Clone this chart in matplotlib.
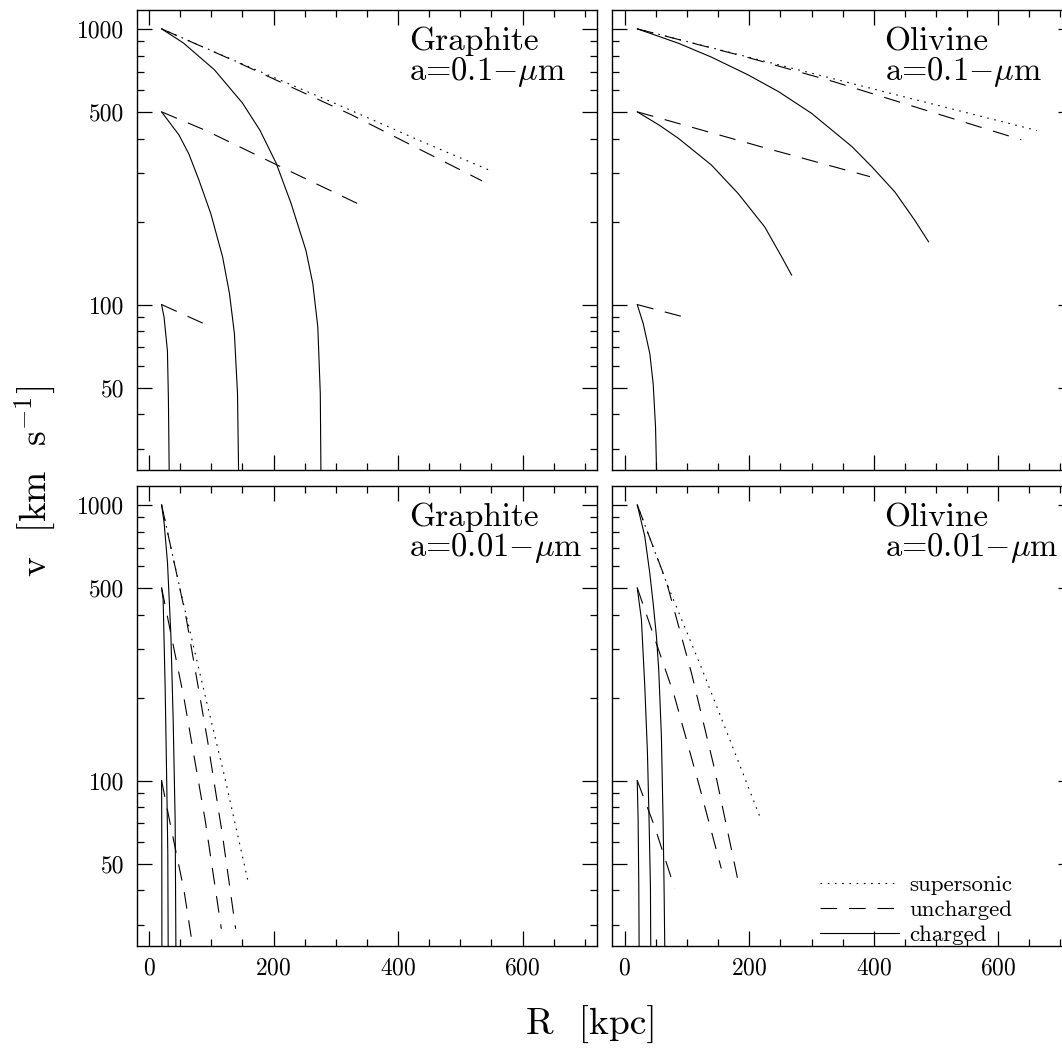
import matplotlib
matplotlib.use("Agg")
import matplotlib.pyplot as plt
from matplotlib.ticker import MultipleLocator, FixedLocator, NullFormatter

plt.rcParams.update({
    'font.family': 'serif',
    'font.serif': ['cmr10'],
    'mathtext.fontset': 'cm',
    'axes.formatter.use_mathtext': True,
    'lines.scale_dashes': False,
})

# Graphite, a = 0.1 micron  (R in kpc, v in km/s)
g1_sup_r = [20, 150, 300, 450, 550]
g1_sup_v = [1000, 745, 535, 380, 305]
g1_unc_r = [[20, 140, 325, 415, 535], [20, 91, 231, 348], [20, 91]]
g1_unc_v = [[1000, 760, 488, 385, 281], [500, 428, 301, 225], [100, 84.7]]
g1_chg_r = [[20, 55, 105, 150, 178, 204, 228, 252, 263, 271, 275, 276],
            [20, 48, 64, 80, 99, 118, 129, 137, 142, 143.7],
            [20, 24, 29.4, 31, 32.2]]
g1_chg_v = [[1000, 889, 710, 538, 429, 326, 233, 157, 119, 83, 47.5, 25],
            [500, 412, 351, 283, 214, 149, 110, 78.5, 47.5, 25],
            [100, 90, 68, 45, 25]]

# Olivine, a = 0.1 micron
o1_sup_r = [20, 250, 450, 662]
o1_sup_v = [1000, 738, 566, 428]
o1_unc_r = [[20, 193, 335, 464, 637], [20, 220, 394], [20, 96]]
o1_unc_v = [[1000, 793, 644, 523, 396], [500, 373, 291], [100, 90]]
o1_chg_r = [[20, 86, 139, 198, 247, 300, 365, 397, 434, 466, 488],
            [20, 55, 86, 139, 182, 225, 252, 268],
            [20, 29.6, 40.2, 45.6, 49.4, 51]]
o1_chg_v = [[1000, 887, 790, 681, 592, 494, 374, 316, 256, 202, 169],
            [500, 448, 401, 321, 253, 191, 149, 128],
            [100, 85.3, 66.4, 51.6, 35.9, 25]]

# Graphite, a = 0.01 micron
g2_sup_r = [20, 51, 94, 121, 160]
g2_sup_v = [1000, 480, 186, 104, 42]
g2_unc_r = [[20, 59, 94, 118, 139], [20, 56, 90, 116], [20, 36, 56, 70]]
g2_unc_v = [[1000, 395, 139, 63, 29], [500, 199, 72, 29], [100, 66, 40, 25]]
g2_chg_r = [[20, 24, 29.5, 35, 38.6, 41.8, 43],
            [20, 22.5, 25.7, 28.4, 30, 30.6],
            [20, 20.2, 20.4, 20.5]]
g2_chg_v = [[1000, 863, 618, 334, 167, 72, 25],
            [500, 454, 220, 95, 54.6, 25],
            [100, 75, 45, 25]]

# Olivine, a = 0.01 micron
o2_sup_r = [20, 67, 123, 177, 219]
o2_sup_v = [1000, 522, 257, 126, 72]
o2_unc_r = [[20, 67, 107, 143, 184.5], [20, 79, 120, 155], [20, 48, 80]]
o2_unc_v = [[1000, 525, 246, 113, 40.7], [500, 205, 95, 48], [100, 68, 40.7]]
o2_chg_r = [[20, 32, 40, 45.5, 50.8, 54.5, 58.8, 61.5, 63.1, 64.2],
            [20, 26.7, 32.1, 36.4, 39, 41.2, 41.7],
            [20, 21.4, 22.5, 23]]
o2_chg_v = [[1000, 771, 568, 441, 334, 253, 145, 72, 41, 25],
            [500, 384, 220, 126, 72, 41, 25],
            [100, 72, 41, 25]]

y_major = [50, 100, 500, 1000]
y_minor = [30, 40, 60, 70, 80, 90, 200, 300, 400, 600, 700, 800, 900]

DOT = (0, (1.2, 4.0))
DASH = (0, (12.0, 8.5))
LW = 0.8


def draw_panel(ax, sup_r, sup_v, unc_r, unc_v, chg_r, chg_v, grain, size,
               left, bottom):
    sup, = ax.plot(sup_r, sup_v, color='k', lw=LW, ls=DOT)
    for r, v in zip(unc_r, unc_v):
        unc, = ax.plot(r, v, color='k', lw=LW, ls=DASH)
    for r, v in zip(chg_r, chg_v):
        chg, = ax.plot(r, v, color='k', lw=LW)

    ax.set_yscale('log')
    ax.set_xlim(-20, 720)
    ax.set_ylim(10 ** 1.4, 10 ** 3.07)
    ax.xaxis.set_major_locator(MultipleLocator(200))
    ax.xaxis.set_minor_locator(MultipleLocator(50))
    ax.set_yticks(y_major)
    ax.set_yticklabels([str(v) for v in y_major])
    ax.yaxis.set_minor_locator(FixedLocator(y_minor))
    ax.yaxis.set_minor_formatter(NullFormatter())
    ax.tick_params(which='both', direction='in', top=True, right=True,
                   width=0.9, labelsize=17)
    ax.tick_params(which='major', length=10.5)
    ax.tick_params(which='minor', length=5.2)
    ax.tick_params(axis='x', pad=8)
    ax.tick_params(axis='y', pad=9)
    ax.tick_params(labelleft=left, labelbottom=bottom)
    for sp in ax.spines.values():
        sp.set_linewidth(1.0)

    ax.text(0.591, 0.912, grain, transform=ax.transAxes, fontsize=24,
            va='baseline', ha='left')
    ax.text(0.591, 0.847, size, transform=ax.transAxes, fontsize=23.5,
            va='baseline', ha='left')
    return sup, unc, chg


fig = plt.figure(figsize=(10.62, 10.61), dpi=100)
col_x = [0.1287, 0.5766]
row_y = [0.5570, 0.1084]
w, h = 0.4337, 0.4340

ax_tl = fig.add_axes([col_x[0], row_y[0], w, h])
ax_tr = fig.add_axes([col_x[1], row_y[0], w, h])
ax_bl = fig.add_axes([col_x[0], row_y[1], w, h])
ax_br = fig.add_axes([col_x[1], row_y[1], w, h])

draw_panel(ax_tl, g1_sup_r, g1_sup_v, g1_unc_r, g1_unc_v, g1_chg_r, g1_chg_v,
           'Graphite', r'a=0.1$-\mu$m', True, False)
draw_panel(ax_tr, o1_sup_r, o1_sup_v, o1_unc_r, o1_unc_v, o1_chg_r, o1_chg_v,
           'Olivine', r'a=0.1$-\mu$m', False, False)
draw_panel(ax_bl, g2_sup_r, g2_sup_v, g2_unc_r, g2_unc_v, g2_chg_r, g2_chg_v,
           'Graphite', r'a=0.01$-\mu$m', True, True)
sup, unc, chg = draw_panel(ax_br, o2_sup_r, o2_sup_v, o2_unc_r, o2_unc_v,
                           o2_chg_r, o2_chg_v,
                           'Olivine', r'a=0.01$-\mu$m', False, True)

ax_br.legend([sup, unc, chg], ['supersonic', 'uncharged', 'charged'],
             loc='upper left', bbox_to_anchor=(0.451, 0.155),
             frameon=False, fontsize=16.5, handlelength=3.45,
             handletextpad=0.45, labelspacing=0.22,
             borderpad=0, borderaxespad=0)

fig.text(0.033, 0.5467, r'v  [km  s$^{-1}$]', rotation=90, fontsize=27,
         ha='center', va='center')
fig.text(0.557, 0.034, 'R  [kpc]', fontsize=27, ha='center', va='center')

fig.savefig('out.png', dpi=100)
